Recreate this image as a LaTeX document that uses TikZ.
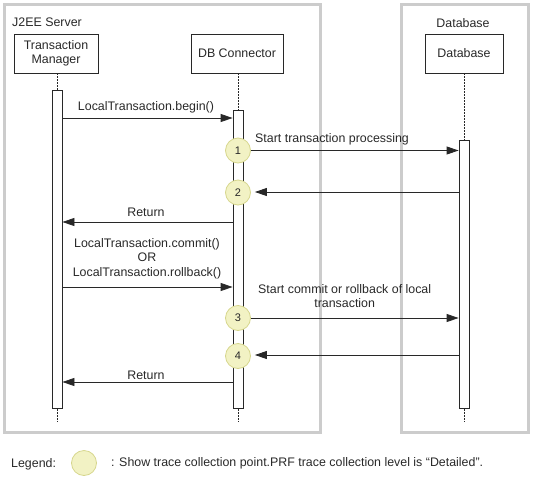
\documentclass[tikz,border=0pt]{standalone}
\usepackage{fontspec}
\setmainfont{Liberation Sans}
\usetikzlibrary{arrows.meta}
\definecolor{framegray}{RGB}{204,204,204}
\definecolor{ink}{RGB}{40,40,40}
\definecolor{ptfill}{RGB}{242,242,196}
\definecolor{ptdraw}{RGB}{214,214,140}
\tikzset{
  frame/.style={draw=framegray, line width=3pt},
  objbox/.style={draw=ink, line width=0.8pt, fill=white, minimum height=39pt, align=center, inner sep=0pt, font=\fontsize{12.4}{14.5}\selectfont, text=ink},
  bar/.style={draw=ink, line width=0.8pt, fill=white, minimum width=10pt, inner sep=0pt},
  life/.style={draw=ink, line width=0.8pt, dash pattern=on 2pt off 1pt},
  msg/.style={draw=ink, line width=0.8pt, -{Triangle[length=12pt,width=8pt]}},
  lbl/.style={font=\fontsize{12.4}{14.5}\selectfont, text=ink, inner sep=0pt, align=center},
  tpoint/.style={circle, fill=ptfill, draw=ptdraw, line width=0.8pt, minimum size=25pt, inner sep=0pt, font=\fontsize{11}{13}\selectfont, text=ink},
}
\begin{document}
\begin{tikzpicture}[x=1pt,y=-1pt]
\useasboundingbox (0,0) rectangle (533,480);
% frames
\draw[frame] (4,4) rectangle (320,432);
\draw[frame] (401,4) rectangle (528,432);
\node[lbl, anchor=west] (j2ee) at (12,22) {J2EE Server};
\node[lbl] (dbtitle) at (463,23) {Database};
% objects
\node[objbox, minimum width=84pt] (tm) at (56,53.5) {Transaction\\Manager};
\node[objbox, minimum width=92pt] (dbc) at (237,53.5) {DB Connector};
\node[objbox, minimum width=78pt] (db) at (464,53.5) {Database};
% activation bars
\node[bar, minimum height=318pt, anchor=north] (tmbar) at (57,90) {};
\node[bar, minimum height=298pt, anchor=north] (dbcbar) at (238,110) {};
\node[bar, minimum height=268pt, anchor=north] (dbbar) at (464,140) {};
\coordinate (tmend) at (57,422);
\coordinate (dbcend) at (238,422);
\coordinate (dbend) at (464,422);
% lifelines
\draw[life] (tm.south -| tmbar.north) -- (tmbar.north);
\draw[life] (tmbar.south) -- (tmend);
\draw[life] (dbc.south -| dbcbar.north) -- (dbcbar.north);
\draw[life] (dbcbar.south) -- (dbcend);
\draw[life] (db.south -| dbbar.north) -- (dbbar.north);
\draw[life] (dbbar.south) -- (dbend);
% trace points
\node[tpoint] (p1) at (238,150.5) {1};
\node[tpoint] (p2) at (238,192.5) {2};
\node[tpoint] (p3) at (238,318) {3};
\node[tpoint] (p4) at (238,356) {4};
% messages
\draw[msg] (tmbar.east |- 0,118) -- (dbcbar.west |- 0,118);
\node[lbl] (mbegin) at (146,107) {LocalTransaction.begin()};
\draw[msg] (p1.east) -- (dbbar.west |- p1);
\node[lbl, anchor=west] (mstart) at (255,139) {Start transaction processing};
\draw[msg] (dbbar.west |- 0,192) -- ([xshift=4pt]p2.east |- 0,192);
\draw[msg] (dbcbar.west |- 0,222) -- (tmbar.east |- 0,222);
\node[lbl] (mret1) at (146,212) {Return};
\node[lbl] (mcommit) at (147,258.5) {LocalTransaction.commit()\\OR\\LocalTransaction.rollback()};
\draw[msg] (tmbar.east |- 0,287) -- (dbcbar.west |- 0,287);
\draw[msg] (p3.east) -- (dbbar.west |- p3);
\node[lbl, anchor=north west] (mstart2) at (258,284) {Start commit or rollback of local\\transaction};
\draw[msg] (dbbar.west |- 0,355) -- ([xshift=4pt]p4.east |- 0,355);
\draw[msg] (dbcbar.west |- 0,382) -- (tmbar.east |- 0,382);
\node[lbl] (mret2) at (146,375) {Return};
% legend
\node[lbl, anchor=west] (legend) at (11,464) {Legend:};
\node[tpoint] (lp) at (84,463) {};
\node[lbl, anchor=west] (legtext) at (111,463) {: Show trace collection point.PRF trace collection level is “Detailed”.};
\end{tikzpicture}
\end{document}
